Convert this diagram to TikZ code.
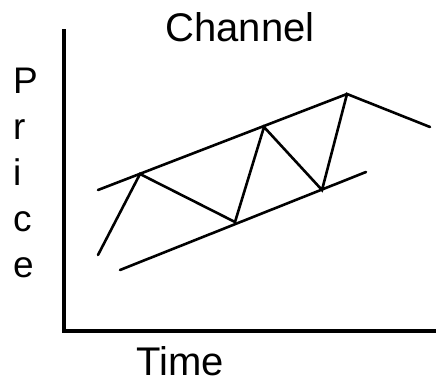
\documentclass[tikz,border=0pt]{standalone}
\usepackage{fontspec}
\setmainfont{Liberation Sans}
\usetikzlibrary{positioning}
\tikzstyle{axis} = [line width=3.2pt,line cap=rect]
\tikzstyle{trend} = [line width=2.6pt,line cap=round,line join=miter]
\tikzstyle{lbl} = [inner sep=0pt,anchor=base,font=\fontsize{40}{46}\selectfont]

\begin{document}
\begin{tikzpicture}
	[x=1pt,y=-1pt,font=\fontsize{37}{46}\selectfont]
	\useasboundingbox (0,0) rectangle (436,385);
	
	% axes
	\coordinate (top) at (64,31);
	\coordinate (origin) at (64,331);
	\coordinate (right) at (437,331);
	\draw[axis] (top) -- (origin) -- (right);
	
	% labels
	\node (title) [lbl] at (240,42) {Channel};
	\node (time) [lbl] at (180,375) {Time};
	\node (price) [inner sep=0pt,anchor=north west,align=left] at (13,68) {P\\r\\i\\c\\e};
	
	% price swings
	\coordinate (p0) at (98,255);
	\coordinate (p1) at (140,174);
	\coordinate (p2) at (235,222);
	\coordinate (p3) at (264,127);
	\coordinate (p4) at (322,190);
	\coordinate (p5) at (347,94);
	\coordinate (p6) at (430,127);
	\draw[trend] (p0) -- (p1) -- (p2) -- (p3) -- (p4) -- (p5) -- (p6);
	
	% channel bounds
	\coordinate (u0) at (98,190);
	\coordinate (l0) at (120,270);
	\coordinate (l1) at (366,172);
	\draw[trend] (u0) -- (p5);
	\draw[trend] (l0) -- (l1);
\end{tikzpicture}
\end{document}
